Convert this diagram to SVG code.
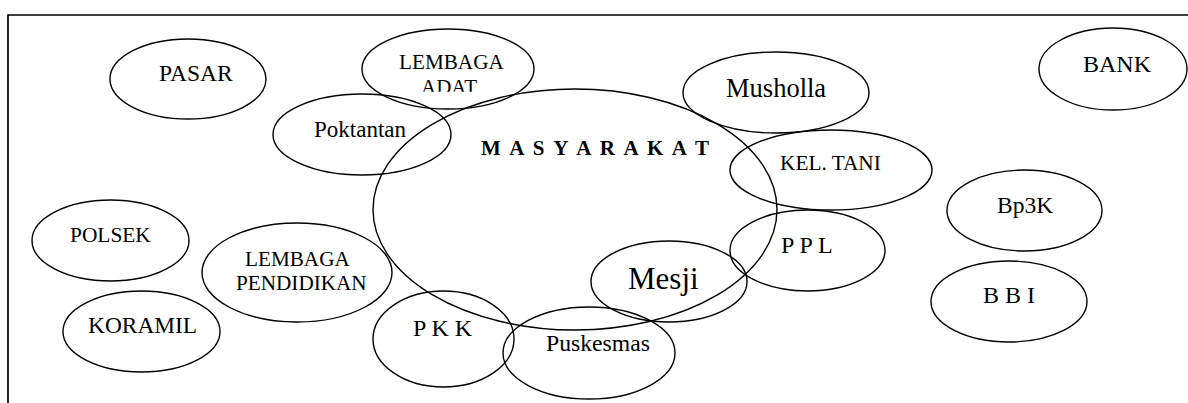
<svg xmlns="http://www.w3.org/2000/svg" width="1188" height="403" viewBox="0 0 1188 403">
<style>
.n ellipse{fill:none;stroke:#000;stroke-width:1.4}
.n text{fill:#000}
</style>
<defs>
<clipPath id="adatClip"><rect x="0" y="0" width="1188" height="91.7"/></clipPath>
</defs>
<rect width="1188" height="403" fill="#fff"/>
<g id="frame">
<path d="M8,403 V15 H1188" fill="none" stroke="#000" stroke-width="1.7"/>
</g>
<g id="connectors"></g>
<g font-family="Liberation Serif, serif">
<g id="masyarakat" class="n">
<ellipse cx="575" cy="209.5" rx="202" ry="120.5"/>
<text x="481" y="155" font-size="21" font-weight="bold" textLength="228" lengthAdjust="spacing">M A S Y A R A K A T</text>
</g>
<g id="pasar" class="n">
<ellipse cx="188" cy="79" rx="78" ry="40"/>
<text x="159" y="81" font-size="23.5">PASAR</text>
</g>
<g id="lembaga-adat" class="n">
<ellipse cx="448" cy="69" rx="86" ry="40"/>
<text x="399" y="69" font-size="21.2">LEMBAGA</text>
<text x="421" y="93.5" font-size="21" clip-path="url(#adatClip)">ADAT</text>
</g>
<g id="poktantan" class="n">
<ellipse cx="362" cy="134.5" rx="89" ry="40.5"/>
<text x="314" y="137" font-size="23">Poktantan</text>
</g>
<g id="musholla" class="n">
<ellipse cx="776" cy="92.5" rx="93" ry="40.5"/>
<text x="726" y="97" font-size="26.5">Musholla</text>
</g>
<g id="kel-tani" class="n">
<ellipse cx="831" cy="170" rx="101" ry="40"/>
<text x="780" y="170" font-size="21.3">KEL. TANI</text>
</g>
<g id="bank" class="n">
<ellipse cx="1113" cy="69" rx="74" ry="41"/>
<text x="1083" y="72" font-size="24">BANK</text>
</g>
<g id="bp3k" class="n">
<ellipse cx="1024.5" cy="210.5" rx="77.5" ry="40.5"/>
<text x="997" y="213" font-size="23.5">Bp3K</text>
</g>
<g id="bbi" class="n">
<ellipse cx="1009" cy="301.5" rx="78" ry="40.5"/>
<text x="983" y="302.5" font-size="24">B B I</text>
</g>
<g id="ppl" class="n">
<ellipse cx="807.5" cy="250.5" rx="77.5" ry="40.5"/>
<text x="781" y="253" font-size="24">P P L</text>
</g>
<g id="mesji" class="n">
<ellipse cx="669" cy="281.5" rx="78" ry="40.5"/>
<text x="628" y="289" font-size="31">Mesji</text>
</g>
<g id="puskesmas" class="n">
<ellipse cx="589" cy="353" rx="86" ry="46"/>
<text x="546" y="351" font-size="23.7">Puskesmas</text>
</g>
<g id="pkk" class="n">
<ellipse cx="443.5" cy="339" rx="70.5" ry="48"/>
<text x="413" y="336" font-size="24">P K K</text>
</g>
<g id="lembaga-pendidikan" class="n">
<ellipse cx="297" cy="272.5" rx="95" ry="49.5"/>
<text x="245" y="266" font-size="21.2">LEMBAGA</text>
<text x="236" y="290" font-size="21.2">PENDIDIKAN</text>
</g>
<g id="polsek" class="n">
<ellipse cx="110.5" cy="240.5" rx="78.5" ry="40.5"/>
<text x="70" y="241.5" font-size="21.4">POLSEK</text>
</g>
<g id="koramil" class="n">
<ellipse cx="141.5" cy="331.5" rx="78.5" ry="40.5"/>
<text x="88" y="333" font-size="23.4">KORAMIL</text>
</g>
</g>
</svg>
